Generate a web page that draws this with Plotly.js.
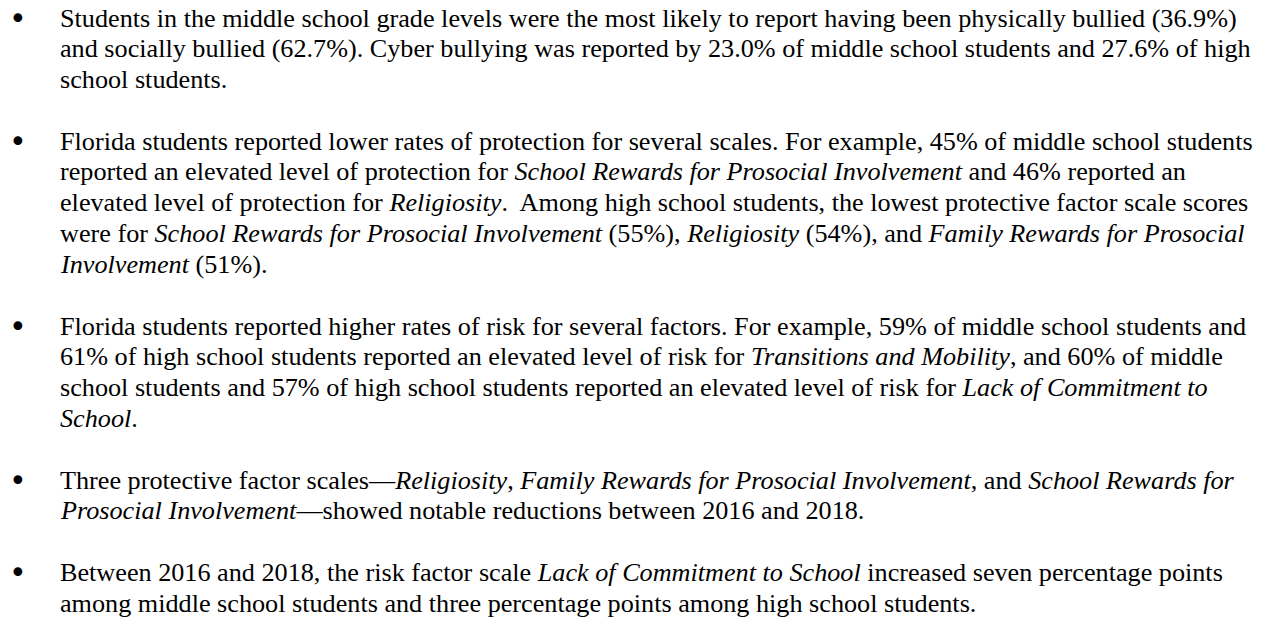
<!DOCTYPE html>
<html>
<head>
<meta charset="utf-8">
<script src="https://cdn.plot.ly/plotly-3.0.1.min.js"></script>
<style>html,body{margin:0;padding:0;background:#fff;}#chart{width:1284px;height:623px;}</style>
</head>
<body>
<div id="chart"></div>
<script>
// Bulleted findings, one array of lines per bullet
const bullet1 = [
  "Students in the middle school grade levels were the most likely to report having been physically bullied (36.9%)",
  "and socially bullied (62.7%). Cyber bullying was reported by 23.0% of middle school students and 27.6% of high",
  "school students."
];
const bullet2 = [
  "Florida students reported lower rates of protection for several scales. For example, 45% of middle school students",
  "reported an elevated level of protection for <i>School Rewards for Prosocial Involvement</i> and 46% reported an",
  "elevated level of protection for <i>Religiosity</i>.\u00a0 Among high school students, the lowest protective factor scale scores",
  "were for <i>School Rewards for Prosocial Involvement</i> (55%), <i>Religiosity</i> (54%), and <i>Family Rewards for Prosocial</i>",
  "<i>Involvement</i> (51%)."
];
const bullet3 = [
  "Florida students reported higher rates of risk for several factors. For example, 59% of middle school students and",
  "61% of high school students reported an elevated level of risk for <i>Transitions and Mobility</i>, and 60% of middle",
  "school students and 57% of high school students reported an elevated level of risk for <i>Lack of Commitment to</i>",
  "<i>School</i>."
];
const bullet4 = [
  "Three protective factor scales\u2014<i>Religiosity</i>, <i>Family Rewards for Prosocial Involvement</i>, and <i>School Rewards for</i>",
  "<i>Prosocial Involvement</i>\u2014showed notable reductions between 2016 and 2018."
];
const bullet5 = [
  "Between 2016 and 2018, the risk factor scale <i>Lack of Commitment to School</i> increased seven percentage points",
  "among middle school students and three percentage points among high school students."
];
const bullets = [bullet1, bullet2, bullet3, bullet4, bullet5];

const W = 1284, H = 623;
const top0 = 18, lineH = 30.8, textX = 58, bulletX = 18;
const font = {family: "Liberation Serif, Times New Roman, serif", size: 26.2, color: "#000"};
const annotations = [];
let row = 0;
bullets.forEach(lines => {
  const yb = top0 + row * lineH;
  annotations.push({xref: "paper", yref: "paper", x: bulletX / W, y: 1 - yb / H,
    xanchor: "center", yanchor: "middle", text: "\u2022", showarrow: false,
    font: {family: "DejaVu Sans, sans-serif", size: 30, color: "#000"}});
  lines.forEach(t => {
    const y = top0 + row * lineH;
    annotations.push({xref: "paper", yref: "paper", x: textX / W, y: 1 - y / H,
      xanchor: "left", yanchor: "middle", align: "left", text: t, showarrow: false, font: font});
    row++;
  });
  row++;
});

Plotly.newPlot("chart", [], {
  width: W, height: H,
  margin: {l: 0, r: 0, t: 0, b: 0},
  paper_bgcolor: "#fff", plot_bgcolor: "#fff",
  xaxis: {visible: false, range: [0, 1]},
  yaxis: {visible: false, range: [0, 1]},
  showlegend: false,
  annotations: annotations
}, {displayModeBar: false, staticPlot: true});
</script>
</body>
</html>
